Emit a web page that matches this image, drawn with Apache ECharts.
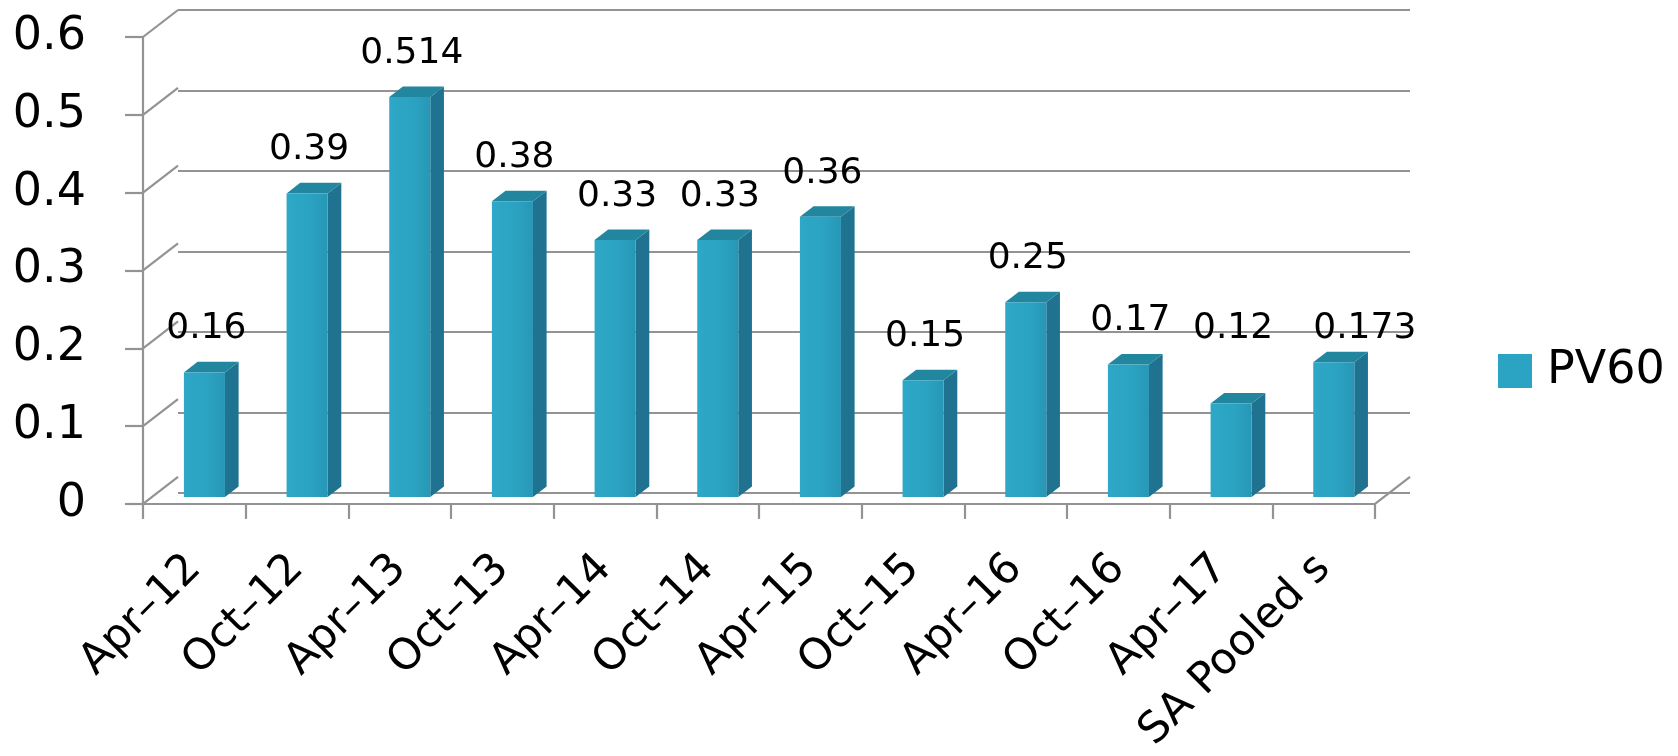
<!DOCTYPE html>
<html><head><meta charset="utf-8">
<script src="https://cdn.jsdelivr.net/npm/echarts@6/dist/echarts.min.js"></script>
<style>html,body{margin:0;padding:0;background:#fff;} #c{width:1678px;height:756px;}</style>
</head><body><div id="c"></div>
<script>
// ---- data ----
const categories = ['Apr–12','Oct–12','Apr–13','Oct–13','Apr–14','Oct–14','Apr–15','Oct–15','Apr–16','Oct–16','Apr–17','SA Pooled s'];
const pv60 = [0.16, 0.39, 0.514, 0.38, 0.33, 0.33, 0.36, 0.15, 0.25, 0.17, 0.12, 0.173];
const yTicks = [0, 0.1, 0.2, 0.3, 0.4, 0.5, 0.6];
const seriesName = 'PV60';

// ---- style ----
const FONT = 'DejaVu Sans';
const GRID = {left: 143, top: 37, width: 1232, height: 483};
const DX = 35, DY = -27;             // depth of the 3D box
const GRID_COLOR = '#939393';
const FRONT_F = 0.26, SIDE_F = 0.39; // bar depth fractions
const LABEL_NUDGE = {10: [0, -31], 11: [29, 10]};

const chart = echarts.init(document.getElementById('c'), null, {renderer: 'canvas'});

const frameSeries = {
  type: 'custom', silent: true, z: 1, xAxisIndex: 0, yAxisIndex: 0,
  data: yTicks.map(v => [0, v]),
  renderItem(params, api) {
    const v = api.value(1);
    const p = api.coord([0, v]);
    const band = api.size([1, 0])[0];
    const x0 = p[0] - band / 2;
    const st = {stroke: GRID_COLOR, lineWidth: 2.2};
    const ch = [{type: 'line', shape: {x1: x0, y1: p[1], x2: x0 + DX, y2: p[1] + DY}, style: st}];
    if (v === 0) {
      const q = api.coord([categories.length - 1, 0]);
      const x1 = q[0] + band / 2;
      ch.push({type: 'line', shape: {x1: x1, y1: q[1], x2: x1 + DX, y2: q[1] + DY}, style: st});
    }
    return {type: 'group', children: ch};
  }
};

const barSeries = {
  type: 'custom', name: seriesName, z: 5, xAxisIndex: 0, yAxisIndex: 0,
  itemStyle: {color: '#2ba3c3'},
  data: pv60.map((v, i) => [i, v]),
  renderItem(params, api) {
    const i = api.value(0), v = api.value(1);
    const base = api.coord([i, 0]);
    const top = api.coord([i, v]);
    const band = api.size([1, 0])[0];
    const fw = band * 0.4;
    const fl = base[0] - fw / 2 + DX * FRONT_F + 1;
    const fr = fl + fw;
    const by = base[1] + DY * FRONT_F;
    const ty = top[1] + DY * FRONT_F;
    const sdx = DX * SIDE_F, sdy = DY * SIDE_F;
    const nudge = LABEL_NUDGE[i] || [0, 0];
    return {type: 'group', children: [
      {type: 'polygon', shape: {points: [[fr, ty], [fr + sdx, ty + sdy], [fr + sdx, by + sdy], [fr, by]]},
        style: {fill: '#1f7390'}},
      {type: 'polygon', shape: {points: [[fl, ty], [fr, ty], [fr + sdx, ty + sdy], [fl + sdx, ty + sdy]]},
        style: {fill: '#22869f'}},
      {type: 'rect', shape: {x: fl, y: ty, width: fw, height: by - ty},
        style: {fill: new echarts.graphic.LinearGradient(0, 0, 1, 0, [
          {offset: 0, color: '#2ea8c8'}, {offset: 0.6, color: '#2ba2c1'}, {offset: 1, color: '#2797b6'}])}},
      {type: 'text', x: fl + fw / 2 + 2 + nudge[0], y: ty + sdy - 33 + nudge[1],
        style: {text: String(v), fill: '#000', font: '36px "' + FONT + '"', align: 'center', verticalAlign: 'middle'}}
    ]};
  }
};

const option = {
  animation: false,
  backgroundColor: '#fff',
  textStyle: {fontFamily: FONT},
  grid: [
    {left: GRID.left, top: GRID.top, width: GRID.width, height: GRID.height, containLabel: false},
    {left: GRID.left + DX, top: GRID.top + DY, width: GRID.width, height: GRID.height, containLabel: false}
  ],
  xAxis: [
    {type: 'category', gridIndex: 0, data: categories, boundaryGap: true,
      axisLine: {show: true, lineStyle: {color: GRID_COLOR, width: 2.2}},
      axisTick: {show: true, length: 15, lineStyle: {color: GRID_COLOR, width: 2.2}},
      axisLabel: {rotate: 45, margin: 58, fontSize: 43, color: '#000', fontFamily: FONT, interval: 0},
      splitLine: {show: false}},
    {type: 'category', gridIndex: 1, data: categories, show: false}
  ],
  yAxis: [
    {type: 'value', gridIndex: 0, min: 0, max: 0.6, interval: 0.1,
      axisLine: {show: true, lineStyle: {color: GRID_COLOR, width: 2.2}},
      axisTick: {show: true, length: 18, lineStyle: {color: GRID_COLOR, width: 2.2}},
      axisLabel: {fontSize: 46, color: '#000', margin: 57, fontFamily: FONT,
        formatter: v => String(Math.round(v * 10) / 10)},
      splitLine: {show: false}},
    {type: 'value', gridIndex: 1, min: 0, max: 0.6, interval: 0.1,
      axisLine: {show: false}, axisTick: {show: false}, axisLabel: {show: false},
      splitLine: {show: true, lineStyle: {color: GRID_COLOR, width: 2.2}}}
  ],
  legend: {
    left: 1493, top: 343, orient: 'vertical',
    data: [{name: seriesName, icon: 'rect'}],
    itemWidth: 34, itemHeight: 34,
    textStyle: {fontSize: 46, color: '#000', fontFamily: FONT, padding: [0, 0, 0, 10]}
  },
  series: [frameSeries, barSeries]
};
chart.setOption(option);
</script>
</body></html>
